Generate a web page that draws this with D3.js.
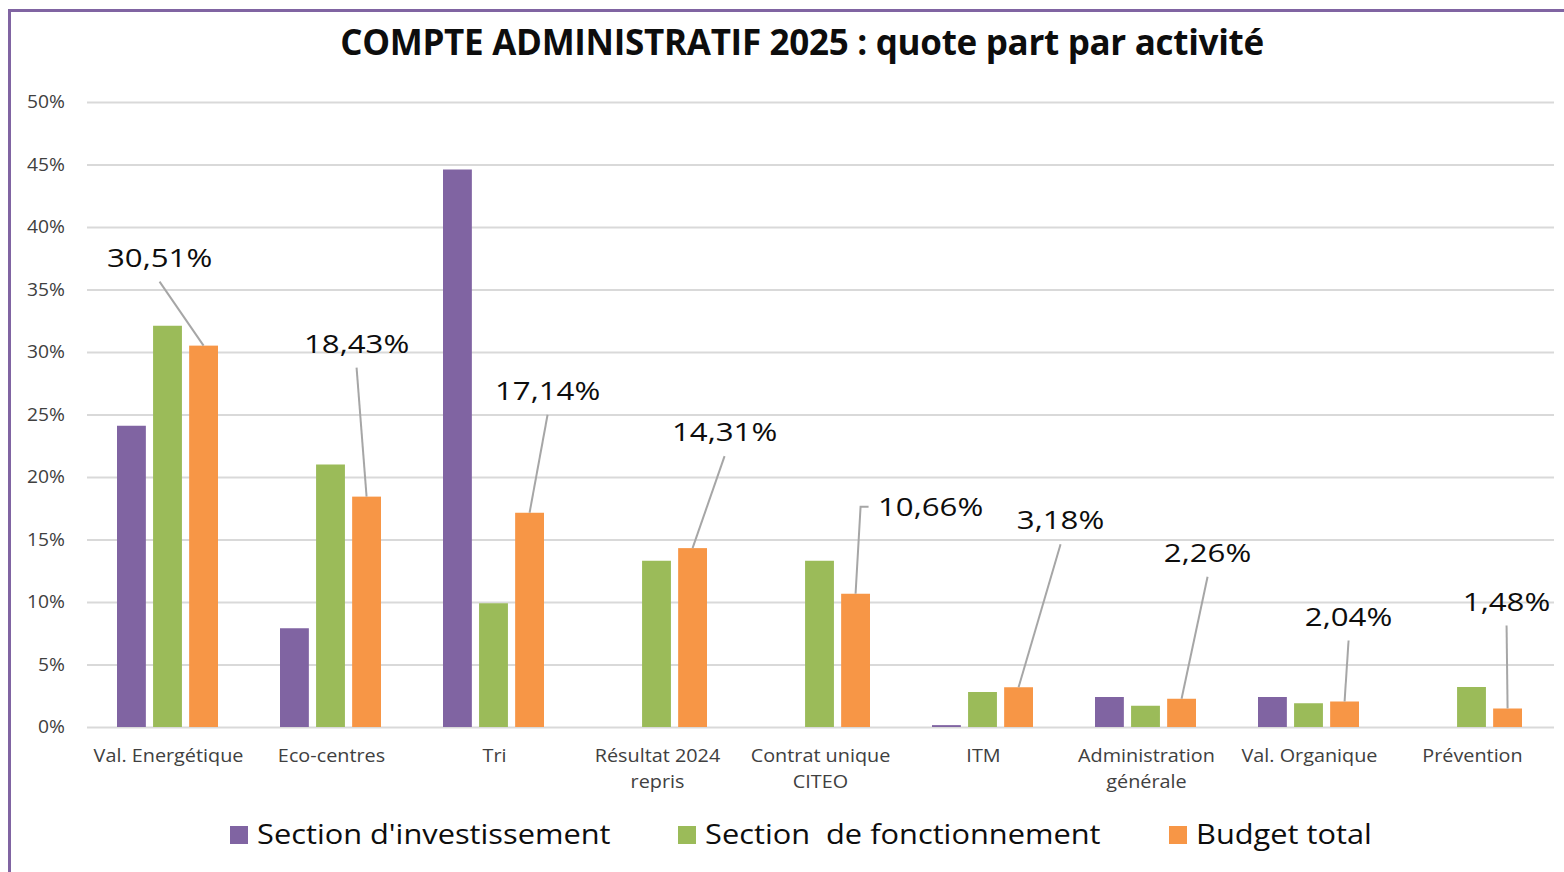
<!DOCTYPE html>
<html>
<head>
<meta charset="utf-8">
<script src="https://cdn.jsdelivr.net/npm/d3@7.9.0/dist/d3.min.js"></script>
<style>
  html, body { margin: 0; padding: 0; background: #fff; }
  svg { display: block; font-family: "Open Sans", Lato, sans-serif; }
</style>
</head>
<body>
<svg id="chart" width="1564" height="872"></svg>
<script>
// data
const categories = ["Val. Energétique", "Eco-centres", "Tri", "Résultat 2024\nrepris", "Contrat unique\nCITEO",
  "ITM", "Administration\ngénérale", "Val. Organique", "Prévention"];
const seriesNames = ["Section d'investissement", "Section  de fonctionnement", "Budget total"];
const investissement = [24.1, 7.9, 44.6, 0, 0, 0.15, 2.4, 2.4, 0];
const fonctionnement = [32.1, 21.0, 9.9, 13.3, 13.3, 2.8, 1.7, 1.9, 3.2];
const budgetTotal = [30.51, 18.43, 17.14, 14.31, 10.66, 3.18, 2.26, 2.04, 1.48];
const budgetLabels = ["30,51%", "18,43%", "17,14%", "14,31%", "10,66%", "3,18%", "2,26%", "2,04%", "1,48%"];
const yTicks = [0, 5, 10, 15, 20, 25, 30, 35, 40, 45, 50];

const colors = ["#8064a2", "#9bbb59", "#f79646"];

// label placement (pixel offsets from the top of the orange bar)
const labelOffsets = [[-44, -88], [-10, -153], [18, -122], [32, -116], [75, -87],
  [42, -167], [26, -146], [4, -85], [-1, -107]];

const svg = d3.select("#chart");
const W = 1564, H = 872;

// the source text is a bit wider than Open Sans, widen glyphs a little
function stretch(sel, k) {
  sel.each(function () {
    const w = this.getComputedTextLength();
    d3.select(this).attr("textLength", w * k).attr("lengthAdjust", "spacingAndGlyphs");
  });
}

// frame
svg.append("line").attr("x1", 8).attr("x2", W).attr("y1", 10.5).attr("y2", 10.5)
  .attr("stroke", "#8064a2").attr("stroke-width", 3);
svg.append("line").attr("x1", 9.5).attr("x2", 9.5).attr("y1", 9).attr("y2", H)
  .attr("stroke", "#8064a2").attr("stroke-width", 3);

const x = d3.scaleBand().domain(d3.range(categories.length)).range([87, 1554]).padding(0);
const y = d3.scaleLinear().domain([0, 50]).range([727, 102]);
const inner = d3.scaleBand().domain([0, 1, 2]).range([30, x.bandwidth() - 32]).paddingInner(0.2);

// title
svg.append("text").attr("x", 802).attr("y", 55).attr("text-anchor", "middle")
  .attr("font-size", 35).attr("font-weight", 700).attr("fill", "#0d0d0d")
  .attr("letter-spacing", -0.3)
  .text("COMPTE ADMINISTRATIF 2025 : quote part par activité");

// grid + y axis
const yAxis = d3.axisLeft(y).tickValues(yTicks).tickSize(-(1554 - 87)).tickFormat(d => d + "%");
const gy = svg.append("g").attr("transform", "translate(87,0)").call(yAxis);
gy.select(".domain").remove();
gy.selectAll(".tick line").attr("stroke", "#d9d9d9").attr("stroke-width", 2);
gy.selectAll(".tick text").attr("x", -22).attr("font-size", 17.5).attr("fill", "#404040")
  .attr("font-family", "'Open Sans', sans-serif");
stretch(gy.selectAll(".tick text"), 1.1);

// bars
const series = [investissement, fonctionnement, budgetTotal];
series.forEach((vals, s) => {
  svg.append("g").selectAll("rect").data(vals).join("rect")
    .attr("x", (d, i) => x(i) + inner(s))
    .attr("width", inner.bandwidth())
    .attr("y", d => y(d))
    .attr("height", d => y(0) - y(d))
    .attr("fill", colors[s]);
});

// x labels
const gx = svg.append("g");
categories.forEach((c, i) => {
  c.split("\n").forEach((line, k) => {
    gx.append("text").attr("x", x(i) + x.bandwidth() / 2).attr("y", 762 + k * 26)
      .attr("text-anchor", "middle").attr("font-size", 18).attr("fill", "#404040").text(line);
  });
});
stretch(gx.selectAll("text"), 1.1);

// data labels with leader lines
const gl = svg.append("g");
budgetTotal.forEach((v, i) => {
  const bx = x(i) + inner(2) + inner.bandwidth() / 2;
  const by = y(v);
  const [dx, dy] = labelOffsets[i];
  const lx = bx + dx, ly = by + dy;
  if (i === 4) {
    // elbow leader to the left of the label
    svg.append("path")
      .attr("d", `M${lx - 62},${ly} L${bx + 5},${ly} L${bx},${by}`)
      .attr("fill", "none").attr("stroke", "#a6a6a6").attr("stroke-width", 2);
  } else {
    svg.append("line").attr("x1", lx).attr("y1", ly + 24).attr("x2", bx).attr("y2", by)
      .attr("stroke", "#a6a6a6").attr("stroke-width", 2);
  }
  gl.append("text").attr("x", lx).attr("y", ly).attr("dy", "0.35em")
    .attr("text-anchor", "middle").attr("font-size", 26).attr("fill", "#0d0d0d")
    .text(budgetLabels[i]);
});
stretch(gl.selectAll("text"), 1.2);

// legend
const legendX = [230, 678, 1169];
const glg = svg.append("g");
seriesNames.forEach((n, s) => {
  glg.append("rect").attr("x", legendX[s]).attr("y", 826).attr("width", 18).attr("height", 18)
    .attr("fill", colors[s]);
  glg.append("text").attr("x", legendX[s] + 27).attr("y", 835).attr("dy", "0.35em")
    .attr("font-size", 27).attr("fill", "#0d0d0d").attr("xml:space", "preserve").text(n);
});
stretch(glg.selectAll("text"), 1.14);
</script>
</body>
</html>
